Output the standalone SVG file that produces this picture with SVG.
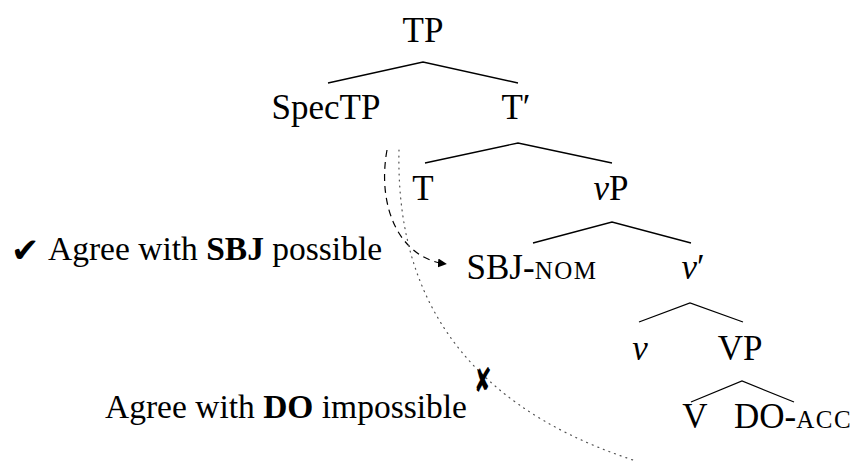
<svg xmlns="http://www.w3.org/2000/svg" width="854" height="461" viewBox="0 0 854 461">
  <style>
    .lbl { font-family: "Liberation Serif", "DejaVu Serif", serif; font-size: 35px; fill: #000; text-anchor: middle; }
    .note { font-family: "Liberation Serif", "DejaVu Serif", serif; font-size: 33.5px; fill: #000; }
    .sym { font-family: "DejaVu Sans", sans-serif; fill: #000; }
    .it { font-style: italic; }
    .b { font-weight: bold; }
    .sc { font-variant: small-caps; letter-spacing: 1.5px; }
    .edge { stroke: #000; stroke-width: 1.3; fill: none; }
    .agree { stroke: #000; stroke-width: 1.2; fill: none; stroke-dasharray: 7 5; }
    .blocked { stroke: #555; stroke-width: 1.2; fill: none; stroke-dasharray: 1 5; stroke-linecap: round; }
  </style>
  <defs>
    <marker id="head" viewBox="0 0 10 10" refX="9" refY="5" markerWidth="9" markerHeight="9" markerUnits="userSpaceOnUse" orient="auto">
      <path d="M0,0 L10,5 L0,10 z" fill="#000"/>
    </marker>
  </defs>

  <!-- tree branches -->
  <g id="connectors">
    <path class="edge" d="M328,83 L423,62 L518,83"/>
    <path class="edge" d="M425,163 L518,143 L612,163"/>
    <path class="edge" d="M533,243 L612,222 L691,243"/>
    <path class="edge" d="M639,322 L690,303 L743,322"/>
    <path class="edge" d="M691,402 L742,381 L794,402"/>
    <!-- successful probe: SpecTP to subject -->
    <path class="agree" d="M387,150 C377,205 398,258 446,264" marker-end="url(#head)"/>
    <!-- failed probe: SpecTP past the subject -->
    <path class="blocked" d="M399,150 C396,280 450,400 633,460"/>
  </g>

  <g id="TP"><text class="lbl" x="423" y="42">TP</text></g>
  <g id="SpecTP"><text class="lbl" x="326" y="119">SpecTP</text></g>
  <g id="Tbar"><text class="lbl" x="516" y="119">T′</text></g>
  <g id="T"><text class="lbl" x="423" y="200">T</text></g>
  <g id="vP"><text class="lbl" x="611" y="200"><tspan class="it">v</tspan>P</text></g>
  <g id="SBJ"><text class="lbl" x="532" y="279">SBJ-<tspan class="sc">nom</tspan></text></g>
  <g id="vbar"><text class="lbl" x="693" y="279"><tspan class="it">v</tspan>′</text></g>
  <g id="v"><text class="lbl it" x="640" y="360">v</text></g>
  <g id="VP"><text class="lbl" x="740" y="360">VP</text></g>
  <g id="V"><text class="lbl" x="695" y="428">V</text></g>
  <g id="DO"><text class="lbl" x="793" y="428">DO-<tspan class="sc">acc</tspan></text></g>

  <g id="note-sbj">
    <text class="sym" x="11" y="262" font-size="34">✔</text>
    <text class="note" x="48" y="260">Agree with <tspan class="b">SBJ</tspan> possible</text>
  </g>
  <g id="note-do">
    <text class="note" x="105" y="418">Agree with <tspan class="b">DO</tspan> impossible</text>
    <text class="sym" transform="translate(474,392) scale(0.62,1)" x="0" y="0" font-size="34">✘</text>
  </g>
</svg>
